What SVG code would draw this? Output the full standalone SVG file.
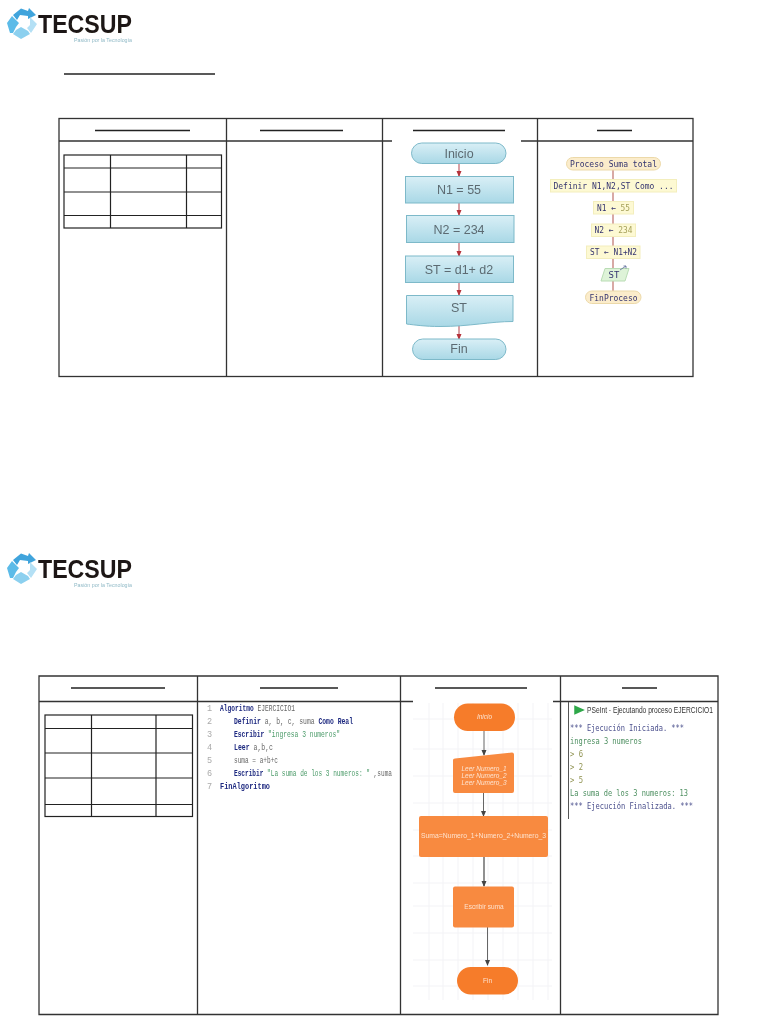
<svg xmlns="http://www.w3.org/2000/svg" width="768" height="1024" viewBox="0 0 768 1024">
<style>
.tb{fill:none;stroke:#333;stroke-width:1.300}
.tn{fill:none;stroke:#222;stroke-width:1.200}
.ul{stroke:#222;stroke-width:1.400}
.logo{font-family:"Liberation Sans",Arial,sans-serif;font-weight:700;font-size:25px;fill:#1c1512}
.tag{font-family:"Liberation Sans",Arial,sans-serif;font-size:5.500px;fill:#8fb9c6}
.fc1{fill:url(#blue);stroke:#7db9c9;stroke-width:1}
.t1{font-family:"Liberation Sans",Arial,sans-serif;font-size:12.500px;fill:#5c6b72;text-anchor:middle}
.ps{fill:#fdf9d3;stroke:#f3eebd;stroke-width:1}
.pr{fill:#fbeccb;stroke:#ecd9a9;stroke-width:1}
.pt{font-family:"DejaVu Sans Mono",monospace;font-size:9px;fill:#33336f;text-anchor:middle}
.ol{fill:#a5a05a}
.cl1{stroke:#c0626a;stroke-width:1.200;fill:none;marker-end:url(#red)}
.cl2{stroke:#d8a9a5;stroke-width:2;fill:none}
.cl3{stroke:#555;stroke-width:.9;fill:none;marker-end:url(#dark)}
.grid{stroke:#f3f3f6;stroke-width:1}
.o1{fill:#f67c2b}
.o2{fill:#f88a40}
.t2{font-family:"Liberation Sans",Arial,sans-serif;font-size:6.500px;fill:#fde3cf;text-anchor:middle}
.i{font-style:italic}
.code{font-family:"Liberation Mono",monospace;font-size:8.500px;fill:#666}
.kw{font-weight:700;fill:#1f2a80}
.str{fill:#4a9a68}
.ln{fill:#aaa}
.con{font-family:"DejaVu Sans Mono",monospace;font-size:9px}
.nv{fill:#4a4f8c}.gr{fill:#4d8f60}.olv{fill:#8f9250}
</style>
<defs>
<linearGradient id="blue" x1="0" y1="0" x2="0" y2="1"><stop offset="0" stop-color="#d9eff6"/><stop offset="1" stop-color="#a9d8e6"/></linearGradient>
<marker id="red" markerUnits="userSpaceOnUse" markerWidth="6" markerHeight="6" refX="5" refY="3" orient="auto"><path d="M0 0.500L6 3L0 5.500Z" fill="#b5323a"/></marker>
<marker id="dark" markerUnits="userSpaceOnUse" markerWidth="6" markerHeight="6" refX="5" refY="3" orient="auto"><path d="M0 0.500L6 3L0 5.500Z" fill="#444"/></marker>
<filter id="soft" x="-5%" y="-5%" width="110%" height="110%"><feGaussianBlur stdDeviation="0.35"/></filter>
</defs>
<rect width="768" height="1024" fill="#fff"/>

<g id="logo-1" filter="url(#soft)">
<path d="M13 15L21 8.500L28 11L29 8L36 15L28 19L28 16L20 15L17 20Z" fill="#3fa4dc"/>
<path d="M7 23L12 16L19 23L16 27L13 33L10 33Z" fill="#5cbbe8"/>
<path d="M30 17L37 24L31 33L27 28L30 25Z" fill="#b4e0f5"/>
<path d="M16 30L21 27L28 31L30 34L21 39L13 34Z" fill="#8cd0ef"/>
<text class="logo" x="38" y="33" textLength="94" lengthAdjust="spacingAndGlyphs">TECSUP</text>
<text class="tag" x="74" y="42" textLength="58" lengthAdjust="spacingAndGlyphs">Pasión por la Tecnología</text>
</g>
<line id="title-rule" class="ul" x1="64" y1="74" x2="215" y2="74"/>

<g id="table-1">
<rect class="tb" x="59" y="118.500" width="634" height="258"/>
<path class="tb" d="M59 141H392M521 141H693M226.500 118.500V376.500M382.500 118.500V376.500M537.500 118.500V376.500"/>
<path class="ul" d="M95 130.500H190M260 130.500H343M413 130.500H505M597 130.500H632" stroke-width="1.800"/>
<g id="vars-1">
<rect class="tn" x="64" y="155" width="157.500" height="73"/>
<path class="tn" d="M64 168H221.500M64 192H221.500M64 215.500H221.500M110.500 155V228M186.500 155V228"/>
</g>
</g>

<g id="flow-1-connectors">
<path class="cl1" d="M459 163V176"/>
<path class="cl1" d="M459 203V215"/>
<path class="cl1" d="M459 242V256"/>
<path class="cl1" d="M459 282V295"/>
<path class="cl1" d="M459 325V339"/>
</g>
<g filter="url(#soft)">
<g id="f1-inicio"><rect class="fc1" x="411.500" y="143" width="94.500" height="20.500" rx="10.250"/><text class="t1" x="459" y="157.500">Inicio</text></g>
<g id="f1-n1"><rect class="fc1" x="405.500" y="176.500" width="108" height="26.500"/><text class="t1" x="459" y="193.500">N1 = 55</text></g>
<g id="f1-n2"><rect class="fc1" x="406.500" y="215.500" width="107.500" height="27"/><text class="t1" x="459" y="233.500">N2 = 234</text></g>
<g id="f1-st"><rect class="fc1" x="405.500" y="256" width="108" height="26.500"/><text class="t1" x="459" y="273.500">ST = d1+ d2</text></g>
<g id="f1-out"><path class="fc1" d="M406.500 295.500H513V321.500C490 321.500 470 326.500 440 326.500C425 326.500 415 325 406.500 324Z"/><text class="t1" x="459" y="312">ST</text></g>
<g id="f1-fin"><rect class="fc1" x="412.500" y="339" width="93.500" height="20.500" rx="10.250"/><text class="t1" x="459" y="353">Fin</text></g>
</g>

<g id="pseint-connectors">
<path class="cl2" d="M613 170V291"/>
</g>
<g filter="url(#soft)">
<g id="p-proceso"><rect class="pr" x="566.500" y="157.500" width="94" height="12.500" rx="6.250"/><text class="pt" x="613.500" y="166.800" textLength="87" lengthAdjust="spacingAndGlyphs">Proceso Suma total</text></g>
<g id="p-definir"><rect class="ps" x="550.500" y="179.500" width="126" height="12.500"/><text class="pt" x="613.500" y="188.800" textLength="120" lengthAdjust="spacingAndGlyphs">Definir N1,N2,ST Como ...</text></g>
<g id="p-n1"><rect class="ps" x="593.500" y="201.500" width="40" height="12.500"/><text class="pt" x="613.500" y="210.800" textLength="33" lengthAdjust="spacingAndGlyphs">N1 ← <tspan class="ol">55</tspan></text></g>
<g id="p-n2"><rect class="ps" x="591.500" y="224" width="44" height="12.500"/><text class="pt" x="613.500" y="233.300" textLength="38" lengthAdjust="spacingAndGlyphs">N2 ← <tspan class="ol">234</tspan></text></g>
<g id="p-st"><rect class="ps" x="586.500" y="246" width="53.500" height="12.500"/><text class="pt" x="613.500" y="255.300" textLength="47" lengthAdjust="spacingAndGlyphs">ST ← N1+N2</text></g>
<g id="p-out"><path d="M605 268.500H629L625 281H601Z" fill="#def3d8" stroke="#b9dcb4"/><text class="pt" x="614" y="277.800">ST</text><path d="M620 270L626 266M623.500 266H626V268.500" fill="none" stroke="#5a6a9a" stroke-width=".8"/></g>
<g id="p-fin"><rect class="pr" x="585.500" y="291" width="55.500" height="12.500" rx="6.250"/><text class="pt" x="613.500" y="300.500" textLength="48" lengthAdjust="spacingAndGlyphs">FinProceso</text></g>
</g>

<g id="logo-2" filter="url(#soft)" transform="translate(0 545)">
<path d="M13 15L21 8.500L28 11L29 8L36 15L28 19L28 16L20 15L17 20Z" fill="#3fa4dc"/>
<path d="M7 23L12 16L19 23L16 27L13 33L10 33Z" fill="#5cbbe8"/>
<path d="M30 17L37 24L31 33L27 28L30 25Z" fill="#b4e0f5"/>
<path d="M16 30L21 27L28 31L30 34L21 39L13 34Z" fill="#8cd0ef"/>
<text class="logo" x="38" y="33" textLength="94" lengthAdjust="spacingAndGlyphs">TECSUP</text>
<text class="tag" x="74" y="42" textLength="58" lengthAdjust="spacingAndGlyphs">Pasión por la Tecnología</text>
</g>

<g id="table-2">
<path class="tb" d="M39 676H718V1014.500H39ZM39 701.500H413M553 701.500H718M197.500 676V1014.500M400.500 676V1014.500M560.500 676V1014.500"/>
<path class="ul" d="M71 688H165M260 688H338M435 688H527M622 688H657"/>
<g id="vars-2">
<rect class="tn" x="45" y="715" width="147.500" height="101.500"/>
<path class="tn" d="M45 728.500H192.500M45 753H192.500M45 778H192.500M45 804.500H192.500M91.500 715V816.500M156 715V816.500"/>
</g>
</g>

<g id="code" filter="url(#soft)">
<text class="code ln" x="207" y="711">1</text>
<text class="code ln" x="207" y="724">2</text>
<text class="code ln" x="207" y="737">3</text>
<text class="code ln" x="207" y="750">4</text>
<text class="code ln" x="207" y="763">5</text>
<text class="code ln" x="207" y="776">6</text>
<text class="code ln" x="207" y="789">7</text>
<text class="code" x="220" y="711" textLength="75" lengthAdjust="spacingAndGlyphs"><tspan class="kw">Algoritmo</tspan> EJERCICIO1</text>
<text class="code" x="234" y="724" textLength="119" lengthAdjust="spacingAndGlyphs"><tspan class="kw">Definir</tspan> a, b, c, suma <tspan class="kw">Como Real</tspan></text>
<text class="code" x="234" y="737" textLength="106" lengthAdjust="spacingAndGlyphs"><tspan class="kw">Escribir</tspan> <tspan class="str">"ingresa 3 numeros"</tspan></text>
<text class="code" x="234" y="750" textLength="39" lengthAdjust="spacingAndGlyphs"><tspan class="kw">Leer</tspan> a,b,c</text>
<text class="code" x="234" y="763" textLength="44" lengthAdjust="spacingAndGlyphs">suma = a+b+c</text>
<text class="code" x="234" y="776" textLength="158" lengthAdjust="spacingAndGlyphs"><tspan class="kw">Escribir</tspan> <tspan class="str">"La suma de los 3 numeros: "</tspan> ,suma</text>
<text class="code" x="220" y="789" textLength="50" lengthAdjust="spacingAndGlyphs"><tspan class="kw">FinAlgoritmo</tspan></text>
</g>

<g id="flow-2-grid">
<path class="grid" d="M413 719H552M413 749H552M413 776H552M413 803H552M413 830H552M413 856H552M413 883H552M413 906H552M413 933H552M413 960H552M413 986H552M429 703V1000M443 703V1000M458 703V1000M473 703V1000M488 703V1000M503 703V1000M518 703V1000M533 703V1000M548 703V1000"/>
</g>
<g id="flow-2-connectors">
<path class="cl3" d="M484 731V755"/>
<path class="cl3" d="M483.500 793V816"/>
<path class="cl3" d="M484 857V886" style="stroke-width:1.300"/>
<path class="cl3" d="M487.500 927V965"/>
</g>
<g filter="url(#soft)">
<g id="f2-inicio"><rect class="o1" x="454" y="703.500" width="61" height="27.500" rx="13.750"/><text class="t2 i" x="484.500" y="719">Inicio</text></g>
<g id="f2-leer"><path class="o2" d="M455 758.500L512 752.500Q514 752.500 514 754.500V791Q514 793 512 793H455Q453 793 453 791V760Q453 758.500 455 758.500Z"/>
<text class="t2 i" x="484" y="770.500">Leer Numero_1</text><text class="t2 i" x="484" y="777.800">Leer Numero_2</text><text class="t2 i" x="484" y="785">Leer Numero_3</text></g>
<g id="f2-suma"><rect class="o2" x="419" y="816" width="129" height="41" rx="2"/><text class="t2" x="483.500" y="838" textLength="125" lengthAdjust="spacingAndGlyphs">Suma=Numero_1+Numero_2+Numero_3</text></g>
<g id="f2-escribir"><rect class="o2" x="453" y="886.500" width="61" height="41" rx="2"/><text class="t2" x="484" y="908.500">Escribir suma</text></g>
<g id="f2-fin"><rect class="o1" x="457" y="967" width="61" height="27.500" rx="13.750"/><text class="t2" x="487.500" y="982.500">Fin</text></g>
</g>

<g id="console" filter="url(#soft)">
<line x1="568.500" y1="702" x2="568.500" y2="819" stroke="#555" stroke-width="1"/>
<path d="M575 706.500L583 710L575 713.500Z" fill="#2fa84a" stroke="#2fa84a" stroke-width="1.500"/>
<text x="587" y="713" font-family="Liberation Sans, sans-serif" font-size="8.500" fill="#333" textLength="126" lengthAdjust="spacingAndGlyphs">PSeInt - Ejecutando proceso EJERCICIO1</text>
<text class="con nv" x="570" y="731" textLength="114" lengthAdjust="spacingAndGlyphs">*** Ejecución Iniciada. ***</text>
<text class="con gr" x="570" y="744" textLength="72" lengthAdjust="spacingAndGlyphs">ingresa 3 numeros</text>
<text class="con olv" x="570" y="757" textLength="13" lengthAdjust="spacingAndGlyphs">&gt; 6</text>
<text class="con olv" x="570" y="770" textLength="13" lengthAdjust="spacingAndGlyphs">&gt; 2</text>
<text class="con olv" x="570" y="783" textLength="13" lengthAdjust="spacingAndGlyphs">&gt; 5</text>
<text class="con gr" x="570" y="796" textLength="118" lengthAdjust="spacingAndGlyphs">La suma de los 3 numeros: 13</text>
<text class="con nv" x="570" y="809" textLength="123" lengthAdjust="spacingAndGlyphs">*** Ejecución Finalizada. ***</text>
</g>
</svg>
